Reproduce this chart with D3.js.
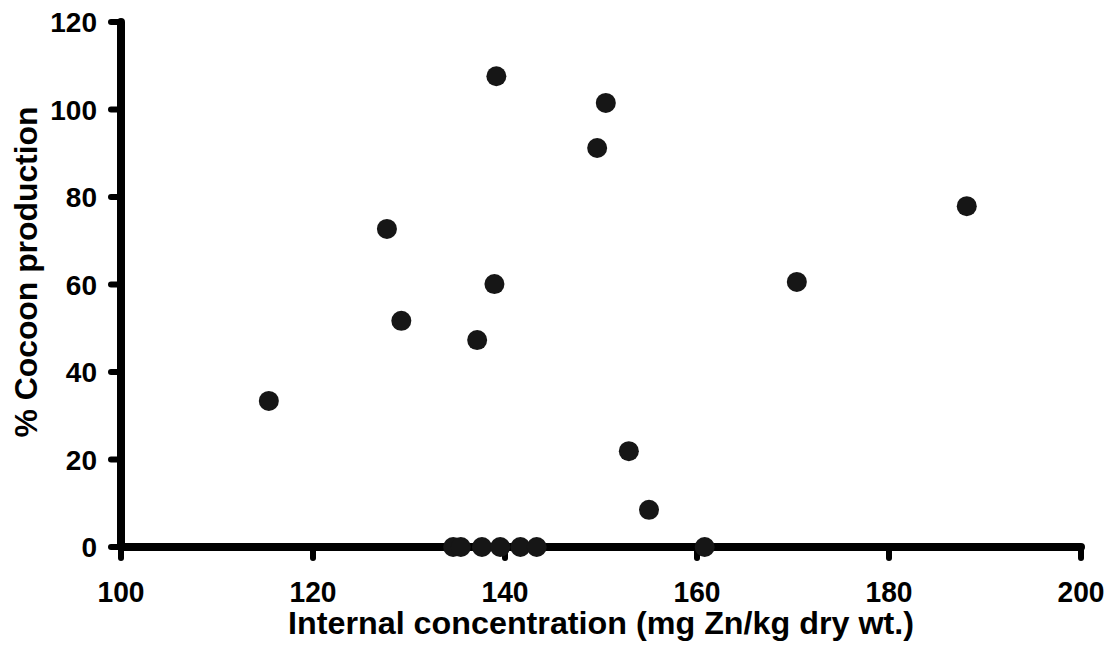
<!DOCTYPE html>
<html>
<head>
<meta charset="utf-8">
<script src="https://cdn.jsdelivr.net/npm/d3@7"></script>
<style>
  html, body { margin: 0; padding: 0; background: #fff; }
  svg { display: block; }
  text { font-family: "Liberation Sans", Arial, Helvetica, sans-serif; font-weight: bold; fill: #000; }
</style>
</head>
<body>
<svg id="chart" width="1113" height="647"></svg>
<script>
// Zinc body burden vs. cocoon production
const concentration = [115.4, 127.7, 129.2, 137.1, 138.9, 139.1, 149.6, 150.5, 152.9, 155.0, 170.4, 188.1,
                       134.6, 135.4, 137.6, 139.5, 141.6, 143.3, 160.8];
const cocoonPct     = [33.4, 72.7, 51.7, 47.3, 60.1, 107.6, 91.2, 101.5, 21.9, 8.5, 60.6, 77.9,
                       0, 0, 0, 0, 0, 0, 0];
const xTicks = [100, 120, 140, 160, 180, 200];
const yTicks = [0, 20, 40, 60, 80, 100, 120];
const xTitle = "Internal concentration (mg Zn/kg dry wt.)";
const yTitle = "% Cocoon production";

const svg = d3.select("#chart");
const x = d3.scaleLinear().domain([100, 200]).range([121, 1081]);
const y = d3.scaleLinear().domain([0, 120]).range([547, 22]);

const axisW = 8;

// Axis lines
svg.append("line")
  .attr("x1", x(100)).attr("x2", x(100))
  .attr("y1", y(120)).attr("y2", y(0))
  .attr("stroke", "#000").attr("stroke-width", axisW).attr("stroke-linecap", "round");
svg.append("line")
  .attr("x1", x(100)).attr("x2", x(200))
  .attr("y1", y(0)).attr("y2", y(0))
  .attr("stroke", "#000").attr("stroke-width", axisW).attr("stroke-linecap", "round");

// Tick marks
svg.selectAll(".ytick").data(yTicks).join("line")
  .attr("x1", x(100) - 10).attr("x2", x(100))
  .attr("y1", d => y(d)).attr("y2", d => y(d))
  .attr("stroke", "#000").attr("stroke-width", 6).attr("stroke-linecap", "round");
svg.selectAll(".xtick").data(xTicks).join("line")
  .attr("x1", d => x(d)).attr("x2", d => x(d))
  .attr("y1", y(0)).attr("y2", y(0) + 11)
  .attr("stroke", "#000").attr("stroke-width", 6).attr("stroke-linecap", "round");

// Tick labels
svg.selectAll(".ylab").data(yTicks).join("text")
  .attr("x", 97).attr("y", d => y(d) + 10)
  .attr("text-anchor", "end").attr("font-size", 28)
  .text(d => d);
svg.selectAll(".xlab").data(xTicks).join("text")
  .attr("x", d => x(d)).attr("y", 602)
  .attr("text-anchor", "middle").attr("font-size", 29)
  .attr("textLength", 47).attr("lengthAdjust", "spacingAndGlyphs")
  .text(d => d);

// Axis titles
svg.append("text")
  .attr("x", (x(100) + x(200)) / 2).attr("y", 634)
  .attr("text-anchor", "middle").attr("font-size", 32)
  .attr("textLength", 626).attr("lengthAdjust", "spacingAndGlyphs")
  .text(xTitle);
svg.append("text")
  .attr("transform", "translate(37,272) rotate(-90)")
  .attr("text-anchor", "middle").attr("font-size", 32)
  .attr("textLength", 331).attr("lengthAdjust", "spacingAndGlyphs")
  .text(yTitle);

// Data points
svg.selectAll(".pt").data(concentration.map((c, i) => [c, cocoonPct[i]])).join("circle")
  .attr("cx", d => x(d[0])).attr("cy", d => y(d[1]))
  .attr("r", 10)
  .attr("fill", "#161616");
</script>
</body>
</html>
